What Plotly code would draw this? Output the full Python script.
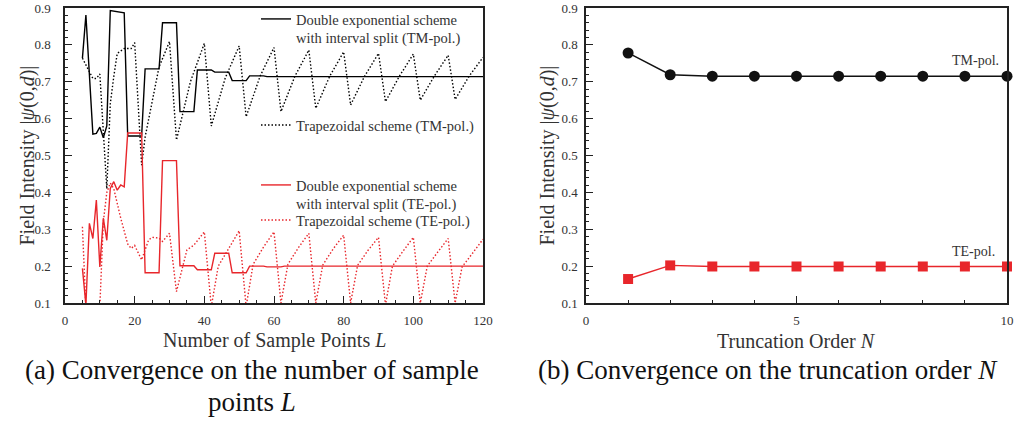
import plotly.graph_objects as go

# ---------------- data: panel (a) ----------------
L_de_tm = [5, 6, 8, 9, 10, 11, 12, 13, 17, 18, 22, 23, 27, 28, 32, 33, 37, 38, 42, 43, 47, 48, 52, 53, 57, 58, 120]
v_de_tm = [0.764, 0.881, 0.558, 0.560, 0.577, 0.548, 0.580, 0.893, 0.887, 0.553, 0.553, 0.735, 0.735,
           0.860, 0.860, 0.619, 0.619, 0.732, 0.732, 0.726, 0.726, 0.703, 0.703, 0.716, 0.716, 0.714, 0.714]

L_tr_tm = [5, 7, 8, 9, 10, 12, 13, 14, 15, 17, 19, 20, 22, 23, 27, 30, 32, 36, 40, 42, 46, 50, 52, 56, 60,
           62, 66, 70, 72, 76, 80, 82, 86, 90, 92, 96, 100, 102, 106, 110, 112, 116, 120]
v_tr_tm = [0.764, 0.730, 0.709, 0.709, 0.721, 0.410, 0.640, 0.714, 0.777, 0.790, 0.790, 0.806, 0.474,
           0.550, 0.740, 0.809, 0.542, 0.700, 0.804, 0.580, 0.710, 0.797, 0.605, 0.715, 0.793,
           0.619, 0.715, 0.786, 0.628, 0.715, 0.781, 0.637, 0.715, 0.777, 0.646, 0.715, 0.775,
           0.650, 0.715, 0.772, 0.652, 0.715, 0.766]

L_de_te = [5, 6, 7, 8, 9, 10, 11, 12, 13, 14, 15, 16, 17, 18, 22, 23, 27, 28, 32, 33, 37, 38, 42, 43, 47,
           48, 52, 53, 57, 58, 62, 63, 120]
v_de_te = [0.194, 0.095, 0.316, 0.275, 0.379, 0.198, 0.330, 0.270, 0.411, 0.429, 0.406, 0.420, 0.415,
           0.561, 0.561, 0.182, 0.182, 0.486, 0.486, 0.201, 0.201, 0.190, 0.190, 0.235, 0.235,
           0.182, 0.182, 0.200, 0.200, 0.198, 0.198, 0.200, 0.200]

L_tr_te = [5, 6, 10, 11, 12, 13, 14, 16, 18, 19, 20, 22, 24, 25, 27, 28, 30, 32, 35, 37, 40, 42, 44, 47,
           50, 52, 54, 57, 60, 62, 64, 67, 70, 72, 74, 77, 80, 82, 84, 87, 90, 92, 94, 97, 100,
           102, 104, 107, 110, 112, 114, 117, 120]
v_tr_te = [0.307, 0.085, 0.090, 0.320, 0.400, 0.425, 0.410, 0.330, 0.260, 0.248, 0.256, 0.217, 0.271,
           0.278, 0.276, 0.267, 0.289, 0.131, 0.244, 0.257, 0.293, 0.090, 0.200, 0.250,
           0.296, 0.090, 0.205, 0.252, 0.293, 0.100, 0.205, 0.250, 0.289, 0.100, 0.203, 0.247,
           0.284, 0.100, 0.202, 0.243, 0.278, 0.095, 0.200, 0.240, 0.278,
           0.100, 0.200, 0.238, 0.275, 0.100, 0.198, 0.235, 0.273]

# ---------------- data: panel (b) ----------------
N = [1, 2, 3, 4, 5, 6, 7, 8, 9, 10]
v_tm_N = [0.778, 0.719, 0.715, 0.715, 0.715, 0.715, 0.715, 0.715, 0.715, 0.715]
v_te_N = [0.165, 0.202, 0.199, 0.199, 0.199, 0.199, 0.199, 0.199, 0.199, 0.199]

W, H = 1015, 423
SERIF = "Liberation Serif"
RED = "#e8262b"
TICKC = "#333333"
DOT = "1.5px,2px"

fig = go.Figure()

fig.add_trace(go.Scatter(x=L_de_tm, y=v_de_tm, mode="lines", line=dict(color="black", width=1.4),
                         name="Double exponential scheme<br>with interval split (TM-pol.)",
                         xaxis="x", yaxis="y", legend="legend"))
fig.add_trace(go.Scatter(x=L_tr_tm, y=v_tr_tm, mode="lines", line=dict(color="black", width=1.4, dash=DOT),
                         name="Trapezoidal scheme (TM-pol.)", xaxis="x", yaxis="y", legend="legend2"))
fig.add_trace(go.Scatter(x=L_de_te, y=v_de_te, mode="lines", line=dict(color=RED, width=1.4),
                         name="Double exponential scheme<br>with interval split (TE-pol.)",
                         xaxis="x", yaxis="y", legend="legend3"))
fig.add_trace(go.Scatter(x=L_tr_te, y=v_tr_te, mode="lines", line=dict(color=RED, width=1.4, dash=DOT),
                         name="Trapezoidal scheme (TE-pol.)", xaxis="x", yaxis="y", legend="legend4"))

fig.add_trace(go.Scatter(x=N, y=v_tm_N, mode="lines+markers", line=dict(color="#111111", width=1.4),
                         marker=dict(symbol="circle", size=11, color="#111111"), cliponaxis=False,
                         showlegend=False, xaxis="x2", yaxis="y2"))
fig.add_trace(go.Scatter(x=N, y=v_te_N, mode="lines+markers", line=dict(color=RED, width=1.4),
                         marker=dict(symbol="square", size=10, color=RED), cliponaxis=False,
                         showlegend=False, xaxis="x2", yaxis="y2"))

ytop, ybot = 8, 303
ydom = [1 - ybot / H, 1 - ytop / H]

common = dict(showline=True, linecolor="#222222", linewidth=1.5, mirror=True, ticks="inside",
              tickcolor="#222222", showgrid=False, zeroline=False, automargin=False,
              tickfont=dict(family=SERIF, size=13, color=TICKC))
minor_x = dict(ticklen=3, ticks="inside", tickcolor="#222222")

leg_common = dict(xanchor="left", yanchor="top", bgcolor="rgba(0,0,0,0)", valign="top",
                  font=dict(family=SERIF, size=14.5, color="#333"), tracegroupgap=0)

fig.update_layout(
    width=W, height=H, margin=dict(l=0, r=0, t=0, b=0),
    paper_bgcolor="white", plot_bgcolor="white",
    xaxis=dict(domain=[65 / W, 483 / W], range=[0, 120], dtick=20, ticklen=7, ticklabelstandoff=5,
               minor=dict(dtick=5, **minor_x), anchor="y", **common),
    yaxis=dict(domain=ydom, range=[0.1, 0.9], dtick=0.1, tickformat=".1f", ticklen=7,
               ticklabelstandoff=10, minor=dict(dtick=0.02, **minor_x), anchor="x", **common),
    xaxis2=dict(domain=[586 / W, 1007 / W], range=[0, 10], dtick=5, ticklen=7, ticklabelstandoff=5,
                minor=dict(dtick=1, **minor_x), anchor="y2", **common),
    yaxis2=dict(domain=ydom, range=[0.1, 0.9], dtick=0.1, tickformat=".1f", ticklen=7,
                ticklabelstandoff=4, minor=dict(dtick=0.02, **minor_x), anchor="x2", **common),
    legend=dict(x=256 / W, y=1 - 3 / H, **leg_common),
    legend2=dict(x=256 / W, y=1 - 109 / H, **leg_common),
    legend3=dict(x=256 / W, y=1 - 169 / H, **leg_common),
    legend4=dict(x=256 / W, y=1 - 204 / H, **leg_common),
)

ann_font = dict(family=SERIF, size=20, color="#333")
cap_font = dict(family=SERIF, size=27, color="#111")
annotations = [
    dict(text="Field Intensity |<i>ψ</i>(0,<i>d</i>)|", xref="x domain", yref="y domain", x=0, y=0.5,
         xshift=-38, textangle=-90, showarrow=False, font=ann_font, xanchor="center", yanchor="middle"),
    dict(text="Field Intensity |<i>ψ</i>(0,<i>d</i>)|", xref="x2 domain", yref="y2 domain", x=0, y=0.5,
         xshift=-39, textangle=-90, showarrow=False, font=ann_font, xanchor="center", yanchor="middle"),
    dict(text="Number of Sample Points <i>L</i>", xref="x domain", yref="y domain", x=0.5, y=0,
         yshift=-37, showarrow=False, font=ann_font, xanchor="center", yanchor="middle"),
    dict(text="Truncation Order <i>N</i>", xref="x2 domain", yref="y2 domain", x=0.5, y=0,
         yshift=-38, showarrow=False, font=ann_font, xanchor="center", yanchor="middle"),
    dict(text="TM-pol.", xref="x2", yref="y2", x=9.25, y=0.757, showarrow=False,
         font=dict(family=SERIF, size=14, color="#333"), xanchor="center", yanchor="middle"),
    dict(text="TE-pol.", xref="x2", yref="y2", x=9.2, y=0.241, showarrow=False,
         font=dict(family=SERIF, size=14, color="#333"), xanchor="center", yanchor="middle"),
    dict(text="(a) Convergence on the number of sample", xref="paper", yref="paper",
         x=252 / W, y=1 - 370 / H, showarrow=False, font=cap_font, xanchor="center", yanchor="middle"),
    dict(text="points <i>L</i>", xref="paper", yref="paper",
         x=252 / W, y=1 - 402 / H, showarrow=False, font=cap_font, xanchor="center", yanchor="middle"),
    dict(text="(b) Convergence on the truncation order <i>N</i>", xref="paper", yref="paper",
         x=768 / W, y=1 - 370 / H, showarrow=False, font=cap_font, xanchor="center", yanchor="middle"),
]
fig.update_layout(annotations=annotations)

fig.write_html("out.html", config={"displayModeBar": False},
               post_script="document.body.style.margin='0';document.body.style.overflow='hidden';")
